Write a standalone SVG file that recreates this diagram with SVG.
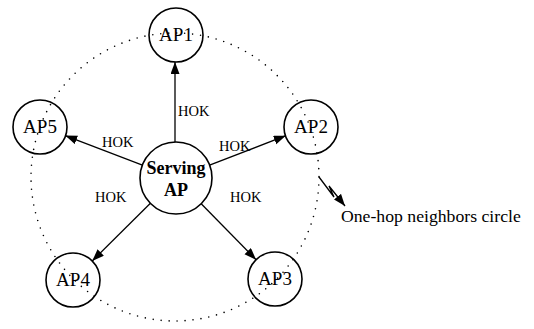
<svg xmlns="http://www.w3.org/2000/svg" width="534" height="329" viewBox="0 0 534 329">
<style>
.node{fill:none;stroke:#000;stroke-width:1.6}
.lbl{font-family:"Liberation Serif","Times New Roman",serif;font-size:19px;fill:#000;text-anchor:middle}
.bold{font-weight:bold;font-size:18px}
.hok{font-family:"Liberation Serif","Times New Roman",serif;font-size:14.5px;fill:#000}
.cap{font-family:"Liberation Serif","Times New Roman",serif;font-size:17.7px;fill:#000}
.edge{stroke:#000;stroke-width:1.3;fill:none;marker-end:url(#arr)}
</style>
<defs>
<marker id="arr" markerUnits="userSpaceOnUse" markerWidth="14" markerHeight="10" refX="12" refY="4.5" orient="auto">
<path d="M0,0 L12,4.5 L0,9 Z" fill="#000"/>
</marker>
</defs>
<rect width="534" height="329" fill="#fff"/>
<g id="neighbor-circle">
<circle cx="175" cy="177" r="144" fill="none" stroke="#000" stroke-width="1.6" stroke-linecap="round" stroke-dasharray="0 8"/>
</g>
<g id="connectors">
<line class="edge" x1="175" y1="142" x2="175" y2="62"/>
<line class="edge" x1="209.6" y1="165.1" x2="285.8" y2="135.7"/>
<line class="edge" x1="142.4" y1="165.1" x2="65.2" y2="135.6"/>
<line class="edge" x1="150.4" y1="203.3" x2="92.2" y2="261"/>
<line class="edge" x1="201.2" y1="203.7" x2="256.1" y2="259.7"/>
<path class="edge" d="M319,177 L334,197 L329,186 L345,206"/>
<text class="hok" x="178" y="116">HOK</text>
<text class="hok" x="219" y="151">HOK</text>
<text class="hok" x="102" y="147">HOK</text>
<text class="hok" x="95" y="202">HOK</text>
<text class="hok" x="230" y="202">HOK</text>
</g>
<g id="serving">
<circle class="node" cx="176" cy="178" r="36"/>
<text class="lbl bold" x="176" y="174">Serving</text>
<text class="lbl bold" x="176" y="196">AP</text>
</g>
<g id="ap1"><circle class="node" cx="176" cy="35" r="27"/><text class="lbl" x="176" y="41">AP1</text></g>
<g id="ap2"><circle class="node" cx="311" cy="127" r="27"/><text class="lbl" x="311" y="133">AP2</text></g>
<g id="ap3"><circle class="node" cx="275" cy="279" r="27"/><text class="lbl" x="275" y="285">AP3</text></g>
<g id="ap4"><circle class="node" cx="73" cy="280" r="27"/><text class="lbl" x="73" y="286">AP4</text></g>
<g id="ap5"><circle class="node" cx="40" cy="127" r="27"/><text class="lbl" x="40" y="133">AP5</text></g>
<g id="caption"><text class="cap" x="341" y="222">One-hop neighbors circle</text></g>
</svg>
